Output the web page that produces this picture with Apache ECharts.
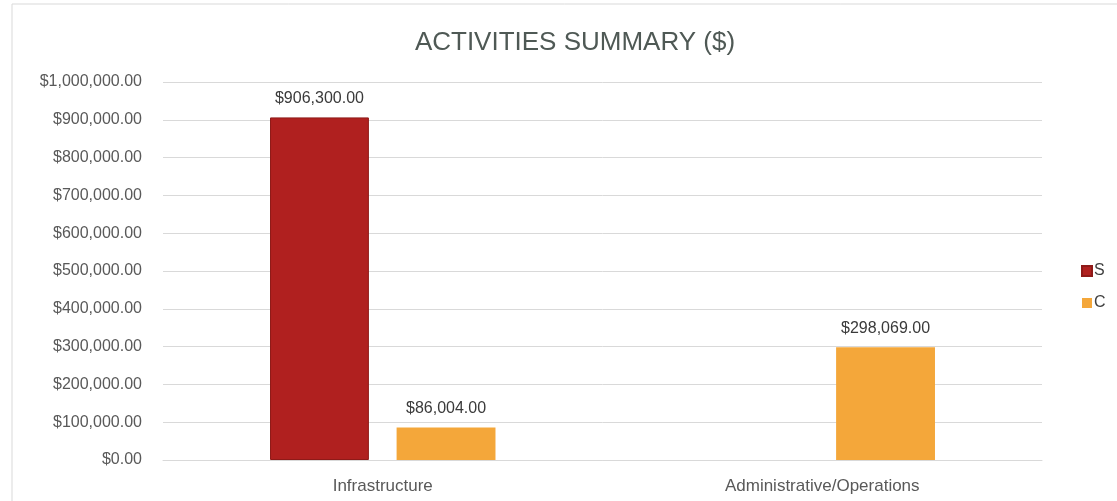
<!DOCTYPE html>
<html>
<head>
<meta charset="utf-8">
<script src="https://cdn.jsdelivr.net/npm/echarts@6/dist/echarts.min.js"></script>
<style>
  html, body { margin: 0; padding: 0; background: #ffffff; }
  #chart { width: 1117px; height: 501px; }
</style>
</head>
<body>
<div id="chart"></div>
<script>
// Activity categories and spending per source
const categories = ['Infrastructure', 'Administrative/Operations'];
const seriesS = [906300, null];
const seriesC = [86004, 298069];
const yTicks = { min: 0, max: 1000000, interval: 100000 };

const FONT = "'Liberation Sans', Arial, sans-serif";

function money(v) {
  return '$' + Number(v).toLocaleString('en-US', { minimumFractionDigits: 2, maximumFractionDigits: 2 });
}

const chart = echarts.init(document.getElementById('chart'), null, { renderer: 'canvas' });

chart.setOption({
  backgroundColor: '#ffffff',
  animation: false,
  title: {
    text: 'ACTIVITIES SUMMARY ($)',
    left: 570,
    textAlign: 'center',
    top: 25,
    textStyle: { fontFamily: FONT, fontSize: 26, fontWeight: 'normal', color: '#4f5955' }
  },
  graphic: [
    { type: 'line', shape: { x1: 12, y1: 4, x2: 12, y2: 501 }, style: { stroke: '#d9d9d9', lineWidth: 1 } },
    { type: 'line', shape: { x1: 12, y1: 4, x2: 1117, y2: 4 }, style: { stroke: '#d9d9d9', lineWidth: 1 } }
  ],
  legend: {
    orient: 'vertical',
    left: 1076,
    top: 258,
    itemWidth: 10,
    itemHeight: 10,
    itemGap: 16,
    icon: 'rect',
    textStyle: { fontFamily: FONT, fontSize: 16, color: '#404040', padding: [0, 0, 0, -3] },
    data: ['S', 'C']
  },
  grid: { left: 163, right: 75, top: 82, bottom: 41, containLabel: false },
  xAxis: {
    type: 'category',
    data: categories,
    axisLine: { lineStyle: { color: '#d9d9d9' } },
    axisTick: { show: false },
    axisLabel: { fontFamily: FONT, fontSize: 17, color: '#595959', margin: 18 }
  },
  yAxis: {
    type: 'value',
    min: yTicks.min,
    max: yTicks.max,
    interval: yTicks.interval,
    axisLine: { show: false },
    axisTick: { show: false },
    splitLine: { lineStyle: { color: '#d9d9d9', width: 1 } },
    axisLabel: { fontFamily: FONT, fontSize: 16, color: '#595959', margin: 21, formatter: money }
  },
  series: [
    {
      name: 'S',
      type: 'bar',
      data: seriesS,
      barWidth: '22.5%',
      barGap: '28%',
      itemStyle: { color: '#b0201f', borderColor: '#8e1a18', borderWidth: 1 },
      label: {
        show: true, position: 'top', distance: 11,
        fontFamily: FONT, fontSize: 16, color: '#3a3a3a',
        formatter: p => money(p.value)
      }
    },
    {
      name: 'C',
      type: 'bar',
      data: seriesC,
      barWidth: '22.5%',
      itemStyle: { color: '#f4a73a' },
      label: {
        show: true, position: 'top', distance: 11,
        fontFamily: FONT, fontSize: 16, color: '#3a3a3a',
        formatter: p => money(p.value)
      }
    }
  ]
});
</script>
</body>
</html>
